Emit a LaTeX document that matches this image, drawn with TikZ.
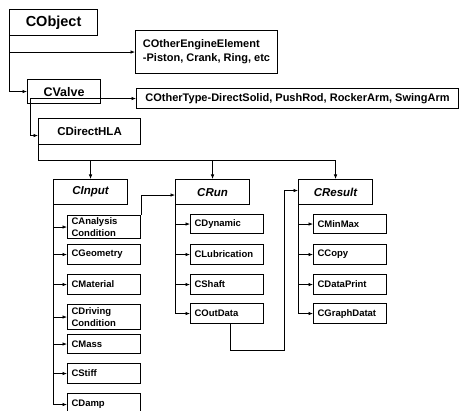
\documentclass[tikz,border=0pt]{standalone}
\usepackage{fontspec}
\setmainfont{Liberation Sans}
\usepackage{tikz}
\usetikzlibrary{arrows.meta,positioning}

\begin{document}
\begin{tikzpicture}[
  x=1pt, y=-1pt,
  clsbox/.style={rectangle, draw=black, line width=1.1pt, anchor=north west, align=center, inner sep=2pt, font=\bfseries},
  grpbox/.style={clsbox, minimum width=74pt, minimum height=25pt, font=\bfseries\itshape\fontsize{11.5}{13}\selectfont},
  subbox/.style={rectangle, draw=black, line width=1.1pt, anchor=north west, align=left, text width=65pt, inner xsep=4pt, inner ysep=1pt, minimum height=20pt, font=\bfseries\fontsize{9.5}{11.5}\selectfont},
  link/.style={-{Latex[length=4.5pt,width=3.5pt]}, line width=0.7pt},
  wire/.style={line width=0.7pt}
]
  \useasboundingbox (0,0) rectangle (463,411);
  \clip (0,0) rectangle (463,411);

  % top of the hierarchy
  \node[clsbox, minimum width=88pt, minimum height=26pt, font=\bfseries\fontsize{14.5}{16}\selectfont] (obj) at (9,9) {CObject};
  \node[clsbox, align=left, minimum width=142pt, minimum height=43pt, inner xsep=6pt, font=\bfseries\fontsize{11}{14}\selectfont] (eng) at (135,30) {COtherEngineElement\\-Piston, Crank, Ring, etc};
  \node[clsbox, minimum width=73pt, minimum height=24pt, font=\bfseries\fontsize{12.5}{14}\selectfont] (valve) at (27,79) {CValve};
  \node[clsbox, minimum width=322pt, minimum height=20pt, font=\bfseries\fontsize{11}{13}\selectfont] (other) at (136,88) {COtherType-DirectSolid, PushRod, RockerArm, SwingArm};
  \node[clsbox, minimum width=102pt, minimum height=26pt, font=\bfseries\fontsize{11.5}{13}\selectfont] (hla) at (38,118) {CDirectHLA};

  % the three groups
  \node[grpbox] (inp) at (53,179) {CInput};
  \node[grpbox] (run) at (175,179) {CRun};
  \node[grpbox] (res) at (298,179) {CResult};

  % CInput children
  \node[subbox, minimum height=23pt] (ana) at (67,215) {CAnalysis\\Condition};
  \node[subbox] (geo) at (67,244) {CGeometry};
  \node[subbox] (mat) at (67,274) {CMaterial};
  \node[subbox, minimum height=25pt] (drv) at (67,304) {CDriving\\Condition};
  \node[subbox, minimum height=19pt] (mas) at (67,334) {CMass};
  \node[subbox] (sti) at (67,363) {CStiff};
  \node[subbox, minimum height=22pt] (dmp) at (67,393) {CDamp};

  % CRun children
  \node[subbox, minimum height=19pt] (dyn) at (190,214) {CDynamic};
  \node[subbox] (lub) at (190,244) {CLubrication};
  \node[subbox] (sha) at (190,274) {CShaft};
  \node[subbox] (out) at (190,303) {COutData};

  % CResult children
  \node[subbox, minimum height=19pt] (mm) at (313,214) {CMinMax};
  \node[subbox] (cp) at (313,244) {CCopy};
  \node[subbox] (dp) at (313,274) {CDataPrint};
  \node[subbox] (gd) at (313,303) {CGraphDatat};

  % connectors
  \draw[link] (obj.south west) |- (eng.west);
  \draw[link] (obj.south west) |- (valve.west);
  \draw[link] ([xshift=3pt]valve.south west) |- (other.west);
  \draw[link] ([xshift=3pt]valve.south west) |- ([yshift=-4pt]hla.west);

  \coordinate (bus) at ([yshift=-15pt]hla.south west);
  \draw[wire] (hla.south west) -- (bus) -- (bus -| res.north);
  \foreach \g in {inp,run,res}
    \draw[link] (bus -| \g.north) -- (\g.north);

  \foreach \c in {ana,geo,mat,drv,mas,sti,dmp}
    \draw[link] (inp.south west) |- (\c.west);
  \foreach \c in {dyn,lub,sha,out}
    \draw[link] (run.south west) |- (\c.west);
  \foreach \c in {mm,cp,dp,gd}
    \draw[link] (res.south west) |- (\c.west);

  \draw[link] (ana.north east) |- ([yshift=-3pt]run.west);
  \draw[link] ([xshift=3pt]out.south) |- ++(54,26) |- ([yshift=1.5pt]res.west);
\end{tikzpicture}
\end{document}
